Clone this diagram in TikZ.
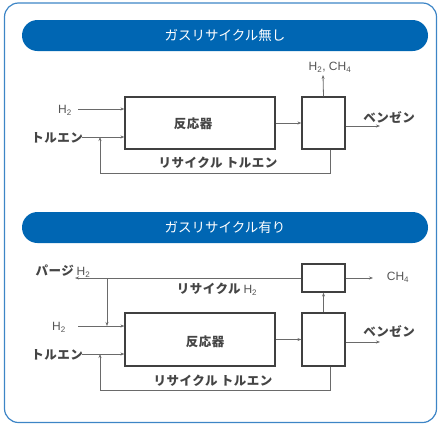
\documentclass[tikz,border=0pt]{standalone}
\usepackage{fontspec}
\setmainfont{Liberation Sans}
\newfontfamily\cjk{Noto Sans CJK JP}
\usetikzlibrary{arrows.meta}
\definecolor{bannerblue}{HTML}{0066B3}
\definecolor{framblue}{HTML}{3D85C6}
\definecolor{boxgray}{HTML}{404040}
\definecolor{linegray}{HTML}{6A6A6A}
\definecolor{textgray}{HTML}{454545}
\definecolor{htext}{HTML}{555555}
\begin{document}
\begin{tikzpicture}[x=1pt,y=-1pt,
  box/.style={draw=boxgray, line width=1.2pt, inner sep=0pt},
  flow/.style={draw=linegray, line width=0.8pt, -{Stealth[length=4pt,width=3pt]}},
  banner/.style={fill=bannerblue, rounded corners=15.5pt, minimum width=406pt, minimum height=31pt, inner sep=0pt, text=white, font=\cjk\fontsize{13.5pt}{15pt}\selectfont},
  jlbl/.style={text=textgray, inner sep=1pt, font=\cjk\bfseries\fontsize{12.5pt}{14pt}\selectfont\addfontfeature{LetterSpace=4}},
  hlbl/.style={text=htext, inner sep=1pt, font=\fontsize{12pt}{14pt}\selectfont},
]
\useasboundingbox (0,0) rectangle (438,426);
\draw[framblue, line width=1.2pt, rounded corners=14pt] (4.5,3) rectangle (436.5,422.5);

% ---------- section 1 ----------
\node[banner] (b1) at (225,35.5) {ガスリサイクル無し};
\node[box, minimum width=150pt, minimum height=52pt] (r1) at (200,123) {};
\node[jlbl] at (193,124) {反応器};
\node[box, minimum width=43pt, minimum height=52pt] (s1) at (323.5,123) {};
\node[hlbl] (h2a) at (65,110) {H\textsubscript{2}};
\node[jlbl] (tol1) at (57,138) {トルエン};
\coordinate (h2as) at (78,109);
\coordinate (tol1s) at (82,137);
\coordinate (rc1) at (100,173);
\coordinate (g1) at (323,75);
\coordinate (bz1) at (380,126);
\draw[flow] (h2as) -- (h2as -| r1.west);
\draw[flow] (tol1s) -- (tol1s -| r1.west);
\draw[flow] (r1.east) -- (s1.west);
\draw[flow] (s1.north) -- (g1);
\node[hlbl] at (330,67) {H\textsubscript{2}, CH\textsubscript{4}};
\draw[flow] (bz1 -| s1.east) -- (bz1);
\node[jlbl] at (389,117) {ベンゼン};
\draw[flow] ([xshift=6.5pt]s1.south) |- (rc1) -- (rc1 |- tol1s);
\node[jlbl] at (218,163) {リサイクル トルエン};

% ---------- section 2 ----------
\node[banner] (b2) at (225,227.5) {ガスリサイクル有り};
\node[box, minimum width=150pt, minimum height=53pt] (r2) at (200,339.5) {};
\node[jlbl] at (205,342) {反応器};
\node[box, minimum width=43pt, minimum height=53pt] (s2) at (323.5,339.5) {};
\node[box, minimum width=43pt, minimum height=28pt] (sb) at (323.5,278) {};
\coordinate (pg) at (75,278);
\coordinate (jn) at (107,278);
\coordinate (h2bs) at (78,326);
\coordinate (tol2s) at (82,354);
\coordinate (rc2) at (100,390);
\coordinate (ch4) at (373,278);
\coordinate (bz2) at (380,342);
\node[hlbl] (h2b) at (59,327) {H\textsubscript{2}};
\node[jlbl] (tol2) at (57,355) {トルエン};
\node[text=textgray, inner sep=1pt] (purge) at (63,271) {{\cjk\bfseries\fontsize{12.5pt}{14pt}\selectfont\addfontfeature{LetterSpace=4}パージ} {\color{htext}\fontsize{12pt}{14pt}\selectfont H\textsubscript{2}}};
\draw[flow] (sb.west) -- (pg);
\draw[flow] (jn) -- (jn |- h2bs);
\draw[flow] (h2bs) -- (h2bs -| r2.west);
\draw[flow] (tol2s) -- (tol2s -| r2.west);
\draw[flow] (r2.east) -- (s2.west);
\draw[flow] (s2.north) -- (sb.south);
\draw[flow] (sb.east) -- (ch4);
\node[hlbl] at (398,277) {CH\textsubscript{4}};
\draw[flow] (bz2 -| s2.east) -- (bz2);
\node[jlbl] at (389,331) {ベンゼン};
\draw[flow] ([xshift=6.5pt]s2.south) |- (rc2) -- (rc2 |- tol2s);
\node[text=textgray, inner sep=1pt] at (217,289) {{\cjk\bfseries\fontsize{12.5pt}{14pt}\selectfont\addfontfeature{LetterSpace=4}リサイクル} {\color{htext}\fontsize{12pt}{14pt}\selectfont H\textsubscript{2}}};
\node[jlbl] at (213,381) {リサイクル トルエン};
\end{tikzpicture}
\end{document}
